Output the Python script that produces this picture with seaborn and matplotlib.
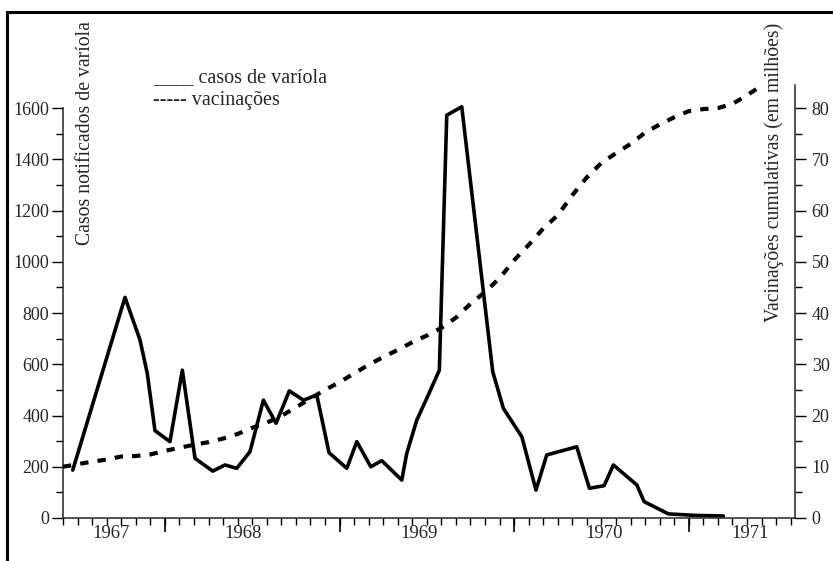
import numpy as np
import pandas as pd
import seaborn as sns
import matplotlib
matplotlib.use("Agg")
import matplotlib.pyplot as plt
from matplotlib.lines import Line2D
from matplotlib.ticker import MultipleLocator

# meses contados a partir do inicio do eixo (out. 1966 aprox.)
case_month = [0.67, 4.26, 5.29, 5.79, 6.32, 7.35, 8.2, 9.07, 10.29, 11.13,
              11.94, 12.85, 13.77, 14.64, 15.55, 16.52, 17.44, 18.28, 19.5, 20.19,
              21.15, 21.9, 23.28, 23.62, 24.31, 25.1, 25.86, 26.37, 27.4, 29.53,
              30.26, 31.53, 32.5, 33.24, 35.3, 36.17, 37.18, 37.82, 39.43, 39.93,
              41.6, 43.5, 45.38]
case_count = [187, 861, 695, 565, 341, 298, 577, 233, 183, 207,
              194, 259, 460, 370, 496, 460, 480, 255, 194, 298,
              200, 224, 148, 252, 382, 480, 577, 1572, 1605, 571,
              428, 317, 109, 246, 278, 116, 126, 207, 129, 64,
              16, 10, 8]

vac_month = [0, 1, 2, 3, 4, 5, 6, 7, 8, 9, 10, 11, 12, 13, 14, 15, 16, 17,
             18, 19, 20, 21, 22, 23, 24, 25, 26, 27, 28, 29, 30, 31, 32, 33,
             34, 35, 36, 37, 38, 39, 40, 41, 42, 43, 44, 45, 46, 47, 47.7]
vac_millions = [10.0, 10.5, 11.0, 11.4, 12.0, 12.1, 12.4, 13.1, 13.7, 14.3,
                14.8, 15.5, 16.4, 17.6, 18.6, 19.9, 21.6, 23.3, 25.0, 26.5,
                28.2, 29.9, 31.4, 32.8, 34.3, 35.6, 37.1, 39.1, 41.8, 44.1,
                46.8, 50.3, 53.3, 56.5, 59.1, 63.0, 66.5, 69.3, 71.2, 73.0,
                75.2, 76.8, 78.2, 79.4, 79.8, 80.0, 80.8, 82.5, 83.8]

year_labels = ["1967", "1968", "1969", "1970", "1971"]
year_label_pos = [3.3, 12.4, 24.5, 37.2, 47.2]
year_marks = [7, 19, 31, 43]

cases = pd.DataFrame({"mes": case_month, "casos": case_count})
vacs = pd.DataFrame({"mes": vac_month, "vac": vac_millions})

sns.set_theme(style="ticks")
plt.rcParams["font.family"] = ["Liberation Serif", "DejaVu Serif"]
plt.rcParams["axes.linewidth"] = 1.1

fig = plt.figure(figsize=(8.33, 5.61), dpi=100)
ax = fig.add_axes([63 / 833, 1 - 518 / 561, 732 / 833, 433 / 561])
ax2 = ax.twinx()

sns.lineplot(data=cases, x="mes", y="casos", ax=ax, color="black",
             linewidth=2.6, estimator=None)
sns.lineplot(data=vacs, x="mes", y="vac", ax=ax2, color="black",
             linewidth=3.0, estimator=None, dashes=False)
ax2.lines[0].set_dashes([2, 2.2])
ax2.lines[0].set_dash_capstyle("butt")

ax.set_xlim(0, 50.3)
ax.set_ylim(0, 1690)
ax2.set_ylim(0, 84.5)

for a in (ax, ax2):
    a.set_xlabel("")
    a.set_ylabel("")
    a.spines["top"].set_visible(False)

ax.spines["right"].set_visible(False)
ax.spines["left"].set_bounds(0, 1600)
ax2.spines["left"].set_visible(False)
ax2.spines["bottom"].set_visible(False)

ax.yaxis.set_major_locator(MultipleLocator(200))
ax.yaxis.set_minor_locator(MultipleLocator(100))
ax2.yaxis.set_minor_locator(MultipleLocator(5))
ax2.set_yticks(range(0, 81, 10))

ax.set_xticks(year_label_pos, year_labels)
ax.xaxis.set_minor_locator(MultipleLocator(1))

ax.tick_params(axis="x", which="major", length=0, pad=5, labelsize=13.5)
ax.tick_params(axis="x", which="minor", length=5, width=1, color="black")
ax.tick_params(axis="y", which="major", length=8, width=1, pad=2,
               labelsize=13, color="black")
ax.tick_params(axis="y", which="minor", length=5, width=1, color="black")
ax2.tick_params(axis="y", which="major", length=8, width=1, pad=4,
                labelsize=13, color="black")
ax2.tick_params(axis="y", which="minor", length=5, width=1, color="black")

# marcas longas no eixo x
sec = ax.secondary_xaxis("bottom")
sec.set_xticks(year_marks)
sec.tick_params(length=10, width=1.2, labelbottom=False, color="black")
sec.spines["bottom"].set_visible(False)

ax.text(0.0314, 0.889, "Casos notificados de varíola", rotation=90,
        transform=ax.transAxes, ha="center", va="center", fontsize=14.2)
ax2.text(0.971, 0.799, "Vacinações cumulativas (em milhões)", rotation=90,
         transform=ax.transAxes, ha="center", va="center", fontsize=14.2)

ax.text(0.123, 1.018, "____ casos de varíola", transform=ax.transAxes,
        ha="left", va="center", fontsize=14.5, clip_on=False)
ax.text(0.123, 0.965, "----- vacinações", transform=ax.transAxes,
        ha="left", va="center", fontsize=14.5, clip_on=False)

# moldura da figura digitalizada
fig.add_artist(Line2D([7 / 833, 1], [1 - 12 / 561, 1 - 12 / 561],
                      transform=fig.transFigure, color="black", lw=2.2))
fig.add_artist(Line2D([7 / 833, 7 / 833], [0, 1 - 12 / 561],
                      transform=fig.transFigure, color="black", lw=2.2))

fig.savefig("out.png", dpi=100)
